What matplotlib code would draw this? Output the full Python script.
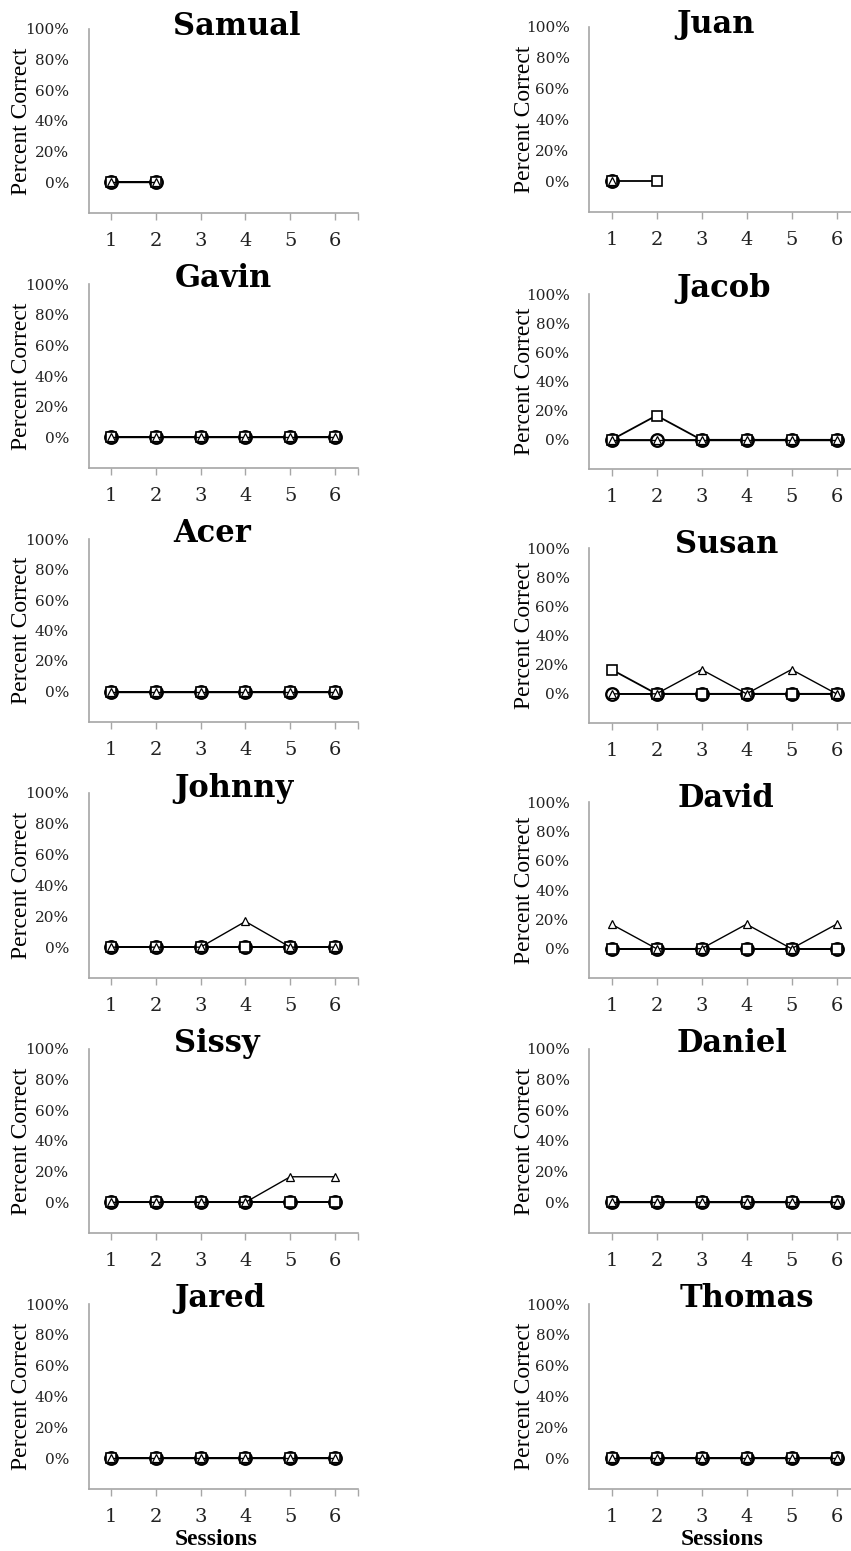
import matplotlib

matplotlib.use("Agg")
import matplotlib.pyplot as plt
import numpy as np

nan = np.nan
sixth = 100.0 / 6

names = ["Samual", "Juan", "Gavin", "Jacob", "Acer", "Susan",
         "Johnny", "David", "Sissy", "Daniel", "Jared", "Thomas"]
sessions = [1, 2, 3, 4, 5, 6]
ytick_vals = [0, 20, 40, 60, 80, 100]
ytick_labels = ["0%", "20%", "40%", "60%", "80%", "100%"]

circle_vals = [
    [0, 0, nan, nan, nan, nan],
    [0, nan, nan, nan, nan, nan],
    [0, 0, 0, 0, 0, 0],
    [0, 0, 0, 0, 0, 0],
    [0, 0, 0, 0, 0, 0],
    [0, 0, 0, 0, 0, 0],
    [0, 0, 0, 0, 0, 0],
    [0, 0, 0, 0, 0, 0],
    [0, 0, 0, 0, 0, 0],
    [0, 0, 0, 0, 0, 0],
    [0, 0, 0, 0, 0, 0],
    [0, 0, 0, 0, 0, 0],
]
square_vals = [
    [0, 0, nan, nan, nan, nan],
    [0, 0, nan, nan, nan, nan],
    [0, 0, 0, 0, 0, 0],
    [0, sixth, 0, 0, 0, 0],
    [0, 0, 0, 0, 0, 0],
    [sixth, 0, 0, 0, 0, 0],
    [0, 0, 0, 0, 0, 0],
    [0, 0, 0, 0, 0, 0],
    [0, 0, 0, 0, 0, 0],
    [0, 0, 0, 0, 0, 0],
    [0, 0, 0, 0, 0, 0],
    [0, 0, 0, 0, 0, 0],
]
triangle_vals = [
    [0, 0, nan, nan, nan, nan],
    [0, nan, nan, nan, nan, nan],
    [0, 0, 0, 0, 0, 0],
    [0, 0, 0, 0, 0, 0],
    [0, 0, 0, 0, 0, 0],
    [0, 0, sixth, 0, sixth, 0],
    [0, 0, 0, sixth, 0, 0],
    [sixth, 0, 0, sixth, 0, sixth],
    [0, 0, 0, 0, sixth, sixth],
    [0, 0, 0, 0, 0, 0],
    [0, 0, 0, 0, 0, 0],
    [0, 0, 0, 0, 0, 0],
]

# layout in pixels (top = 100% line, bottom = -20% spine)
W, H = 851, 1551
col_left = [88.5, 589]
col_width = [269, 270]
ylabel_x = [22, 524]
panel_top = [29, 27, 284, 294, 539, 548, 793, 802, 1049, 1049, 1304, 1304]
panel_bot = [213, 212, 468, 469, 722, 723, 978, 978, 1233, 1233, 1489, 1489]
title_x = [237, 716, 223, 723, 212, 727, 234, 726, 217, 732, 220, 747]
title_y = [35, 33, 287, 297, 542, 553, 797, 807, 1052, 1052, 1307, 1307]

axis_gray = "#a6a6a6"
fig = plt.figure(figsize=(W / 100, H / 100), dpi=100)

for i, name in enumerate(names):
    col = i % 2
    l = col_left[col] / W
    b = 1 - panel_bot[i] / H
    h = (panel_bot[i] - panel_top[i]) / H
    ax = fig.add_axes([l, b, col_width[col] / W, h])

    ax.plot(sessions, circle_vals[i], color="black", lw=1.3, marker="o",
            ms=9, mfc="white", mec="black", mew=1.7, zorder=3, clip_on=False)
    ax.plot(sessions, square_vals[i], color="black", lw=1.3, marker="s",
            ms=7.5, mfc="white", mec="black", mew=1.2, zorder=4, clip_on=False)
    ax.plot(sessions, triangle_vals[i], color="black", lw=1.0, marker="^",
            ms=6, mfc="white", mec="black", mew=0.9, zorder=5, clip_on=False)

    ax.set_xlim(0.5, 6.5)
    ax.set_ylim(-20, 100)
    ax.set_xticks(sessions + [6.5])
    ax.set_xticklabels([str(s) for s in sessions] + [""],
                       family="DejaVu Serif", fontsize=14, color="#222222")
    ax.set_yticks(ytick_vals)
    ax.set_yticklabels(ytick_labels, family="DejaVu Serif", fontsize=11,
                       color="#222222")
    ax.tick_params(axis="x", length=5, width=1, color=axis_gray, pad=9)
    ax.tick_params(axis="y", length=0, pad=14)
    for side in ["top", "right"]:
        ax.spines[side].set_visible(False)
    for side in ["left", "bottom"]:
        ax.spines[side].set_color(axis_gray)
        ax.spines[side].set_linewidth(1.2)

    ycenter = 1 - (panel_top[i] + panel_bot[i]) / 2 / H
    fig.text(ylabel_x[col] / W, ycenter, "Percent Correct", rotation=90,
             ha="center", va="center", family="Liberation Serif",
             fontsize=17)

    fig.text(title_x[i] / W, 1 - title_y[i] / H, name, ha="center",
             va="baseline", family="DejaVu Serif", fontweight="bold",
             fontsize=22)

for x in [216, 722]:
    fig.text(x / W, 1 - 1545 / H, "Sessions", ha="center", va="baseline",
             family="Liberation Serif", fontweight="bold", fontsize=17)

fig.savefig("out.png", dpi=100, facecolor="white")
